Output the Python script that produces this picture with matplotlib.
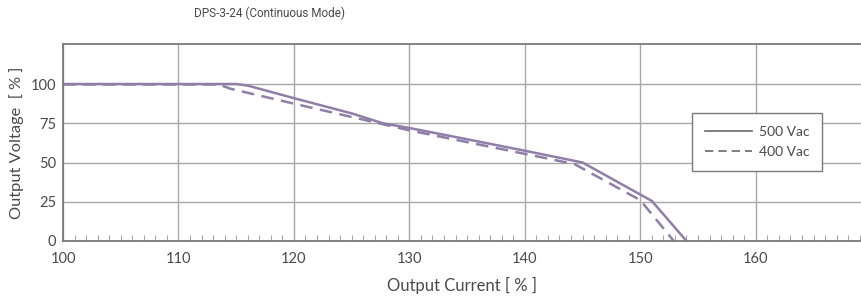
import matplotlib
matplotlib.use("Agg")
import matplotlib.pyplot as plt
from matplotlib.ticker import MultipleLocator

# Data
x_500 = [100, 115, 116, 120, 125, 127.7, 130, 135, 140, 145, 151, 154]
y_500 = [100, 100, 99, 91, 81.3, 75, 72, 64.8, 57.5, 50, 25.5, 0]
x_400 = [100, 113.5, 114.5, 120, 125, 130, 135, 140, 144.3, 150, 152.9]
y_400 = [99.7, 99.7, 97, 87.5, 79, 70.5, 63, 55.5, 49, 26, 0]
x_ticks = [100, 110, 120, 130, 140, 150, 160]
y_ticks = [0, 25, 50, 75, 100]
labels = ["500 Vac", "400 Vac"]

purple = "#8f7fa8"
grid_c = "#a8a8a8"
spine_c = "#7a7a7a"
txt_c = "#4a4a4a"

plt.rcParams['font.family'] = ['Lato', 'DejaVu Sans']

fig = plt.figure(figsize=(8.62, 2.98), dpi=100)
ax = fig.add_axes([63/862, 57/298, 799/862, 197/298])

ax.plot(x_500, y_500, color=purple, lw=1.8, label=labels[0], solid_joinstyle='miter')
ax.plot(x_400, y_400, color=purple, lw=1.8, ls=(0, (5, 3)), label=labels[1])

ax.set_xlim(100, 169.2)
ax.set_ylim(0, 125.5)
ax.set_xticks(x_ticks)
ax.set_yticks(y_ticks)
ax.xaxis.set_minor_locator(MultipleLocator(1))
ax.grid(True, which='major', color=grid_c, lw=1.0)
ax.set_axisbelow(True)

ax.tick_params(axis='x', which='major', direction='in', length=0, labelsize=10.5, labelcolor=txt_c, pad=8)
ax.tick_params(axis='x', which='minor', direction='in', length=4, color=grid_c, width=0.8)
ax.tick_params(axis='y', which='major', length=0, labelsize=10.5, labelcolor=txt_c, pad=5)

for s in ['left', 'bottom', 'top']:
    ax.spines[s].set_color(spine_c)
    ax.spines[s].set_linewidth(1.3)
ax.spines['right'].set_visible(False)

ax.set_xlabel("Output Current [ % ]", fontsize=12, color=txt_c, labelpad=8)
ax.set_ylabel("Output Voltage  [ % ]", fontsize=11.8, color=txt_c, labelpad=5)

leg = ax.legend(loc='center', bbox_to_anchor=(0.869, 0.503), frameon=True, fancybox=False,
                edgecolor=spine_c, framealpha=1, fontsize=10, handlelength=3.4,
                labelspacing=0.6, borderpad=0.9, handletextpad=0.5, borderaxespad=0)
leg.get_frame().set_linewidth(1.0)
for t in leg.get_texts():
    t.set_color(txt_c)
for h in leg.get_lines():
    h.set_color('#6a6a6a')
    h.set_linewidth(1.2)

fig.text(270/862, 1 - 13/298, "DPS-3-24 (Continuous Mode)", ha='center', va='center',
         fontsize=8.5, color=txt_c, family=['Roboto', 'DejaVu Sans'])

fig.savefig("out.png", dpi=100)
